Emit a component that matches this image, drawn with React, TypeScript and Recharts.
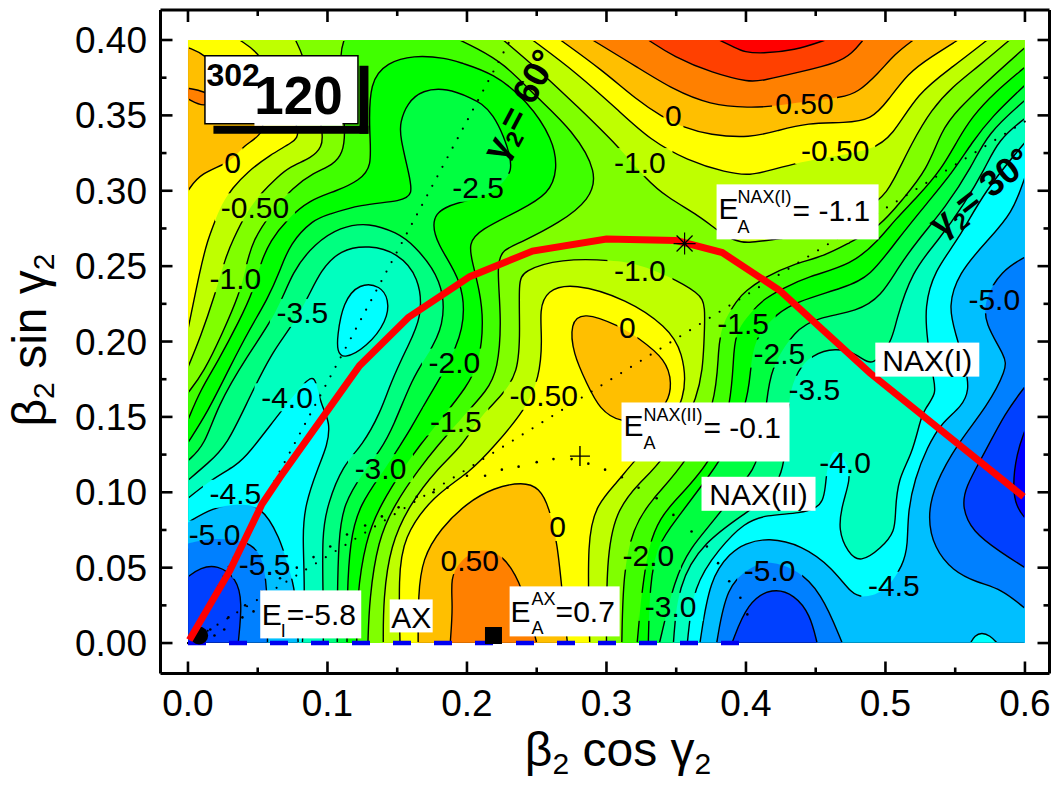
import React from "react";
import { ScatterChart, Scatter, XAxis, YAxis, Curve } from "recharts";

const frame = [0, 0, 600, 0, 600, 400, 0, 400];
// high ground, top right
const topM10 = [226,400,254,378,279,356,308,330,329,307,343,296,367,283,379,274,391,267,401,265,421,268,464,273,497,294,505,305,519,332,533,354,548,369,566,382,589,400];
const topM05 = [247,400,279,378,310,352,331,334,358,320,386,312,403,310,419,314,439,319,464,323,490,327,505,336,523,365,548,382,573,400];
const top00 = [267,400,297,380,322,360,340,349,355,342,374,337,403,335,423,340,444,345,471,345,490,347,502,360,516,378,533,389,552,400];
const top05 = [290,400,322,382,348,367,374,357,403,355,419,356,442,359,469,362,480,365,495,378,507,391,520,400];
const top10 = [330,400,348,389,376,378,403,372,411,373,440,379,466,385,476,391,484,400];
const top15 = [381,400,392,395,399,392,411,391,435,393,457,400];
// high ground, top left
const cornerM10 = [0,400,0,183,9,203,19,230,27,256,32,267,42,286,52,298,64,309,73,316,89,322,96,329,97,338,91,363,82,391,77,400];
const cornerM05 = [0,400,0,208,9,249,14,267,19,279,24,291,32,302,42,312,59,324,75,332,82,338,66,367,52,391,37,400];
const corner00 = [0,395,12,391,34,370,52,354,56,338,39,330,32,319,9,312,0,300];
const corner05 = [0,368,12,366,19,361,12,355,0,361];
// high ground, centre and bottom
const midM10 = [140,0,140,29,145,65,159,92,178,115,197,131,209,150,224,163,237,179,238,208,237,239,240,247,267,255,305,254,324,251,343,244,367,232,371,224,370,201,368,163,340,120,324,107,306,87,300,54,300,0];
const midM05 = [152,0,151,43,154,70,176,98,202,113,220,131,242,155,252,176,254,201,252,221,257,234,276,239,315,228,343,210,355,194,358,161,338,138,319,120,308,107,293,92,286,70,288,0];
const lobe00 = [274,212,283,220,310,210,322,203,343,188,347,172,344,159,331,148,310,146,295,155,286,172,276,192];
const hill00 = [165,0,165,32,168,56,181,76,200,93,219,103,240,107,252,103,259,90,265,65,268,36,272,0];
const hill05 = [188,0,190,25,188,43,195,55,209,63,225,60,240,38,250,0];
// low ground, left valley
const leftM15 = [0,0,0,166,11,179,25,206,37,232,41,247,46,267,61,287,75,302,90,312,104,317,111,325,113,338,110,367,109,392,112,400,195,400,206,395,226,385,250,362,276,340,294,312,288,294,267,279,237,265,226,261,221,252,225,214,222,181,215,168,195,148,179,131,166,116,148,92,136,68,130,29,129,0];
const leftM20 = [0,0,0,148,9,168,21,186,37,214,47,234,52,252,59,267,71,281,87,294,107,300,123,307,132,316,130,338,130,373,143,385,161,390,186,388,195,385,219,378,243,360,262,334,265,314,259,298,238,287,209,274,201,265,204,252,209,234,212,214,209,186,200,170,181,148,166,131,156,118,138,92,127,68,121,29,121,0];
const leftM25 = [0,0,0,133,14,153,30,183,44,208,57,228,66,247,73,265,90,281,100,284,123,291,154,293,161,298,159,309,152,336,152,345,157,358,168,367,186,368,202,362,219,354,234,318,229,308,216,297,202,294,173,287,178,264,197,241,199,208,183,179,171,161,159,141,152,131,141,115,123,92,116,68,114,29,114,0];
const leftM30 = [0,0,0,121,12,131,21,157,42,190,64,219,75,247,91,265,109,276,130,279,150,272,161,265,183,241,184,210,171,190,161,176,147,143,138,128,127,115,111,92,108,68,107,29,107,0];
const leftM35 = [0,0,0,108,14,119,28,131,44,163,61,194,73,208,86,229,95,247,109,261,130,264,150,259,166,243,168,216,157,196,145,172,138,153,125,131,111,118,100,92,96,72,97,29,97,0];
const leftM40 = [0,0,0,96,16,108,35,118,43,125,66,153,86,176,91,176,93,168,96,157,102,146,100,131,93,116,84,92,82,72,84,36,82,0];
const islandM40 = [107,203,111,226,123,239,138,237,144,228,143,214,128,196,111,188,107,194];
const leftM45 = [0,0,0,80,18,90,35,92,52,92,66,70,72,50,77,36,79,0];
const leftM50 = [0,0,0,66,19,70,41,68,53,60,57,36,57,0];
const leftM55 = [0,0,0,44,9,50,21,52,35,43,39,27,36,0];
// low ground, right valley
const rightM15 = [600,0,600,395,571,371,552,354,540,340,530,314,512,294,496,276,473,265,457,257,433,251,414,243,399,233,394,228,383,212,380,196,379,159,358,120,331,94,319,76,312,47,311,0];
const rightM20 = [600,0,600,382,578,365,562,349,552,334,540,314,523,296,507,281,495,267,476,251,444,243,426,235,414,229,403,219,394,208,391,196,390,159,376,120,348,94,329,72,322,0];
const rightM25 = [600,0,600,370,576,349,562,332,548,312,530,292,508,267,489,243,471,236,435,226,423,219,406,203,403,179,401,159,385,125,367,103,351,83,336,65,331,38,330,0];
const rightM30 = [600,0,600,360,573,338,562,316,543,289,523,267,509,249,497,230,480,220,452,216,435,208,417,181,415,159,409,120,401,110,376,80,360,63,349,43,338,0];
const rightM35 = [600,0,600,348,581,334,571,314,557,292,538,267,519,247,507,212,505,201,491,182,480,192,464,196,447,191,437,181,430,163,428,120,424,110,417,98,403,88,369,67,351,38,348,0];
const rightM40 = [600,0,600,332,571,300,552,267,535,247,528,223,530,201,534,176,537,166,528,155,525,148,519,125,509,109,507,87,507,74,497,63,482,53,473,60,466,75,469,92,475,109,473,118,466,128,462,127,458,116,457,103,455,94,451,90,440,86,414,85,399,80,381,63,362,38,358,0];
const rightM45 = [600,0,600,309,591,285,573,267,552,245,545,223,550,206,558,181,560,168,555,157,540,146,530,130,521,109,516,87,516,65,513,52,500,34,485,30,476,32,462,50,440,65,416,70,399,66,389,60,374,43,367,0,561,0,564,5,569,7,575,5,580,0];
const basinM50 = [379,0,386,38,403,50,414,55,435,50,454,34,469,0];
const basinM55 = [390,0,401,27,419,37,435,32,446,19,451,0];
const edgeM50 = [600,256,583,247,571,228,571,212,586,190,587,182,573,157,552,133,535,105,530,83,535,63,548,48,566,40,583,36,600,23];
const edgeM55 = [600,170,586,153,571,126,557,103,555,90,562,74,583,60,600,50];
const edgeM60 = [600,141,594,126,591,103,594,90,600,83];

// paint order, outer region before inner region, with the band colour of each contour's inside
const contourList: [number[], string][] = [
  [topM10,"#bfff00"],[topM05,"#ffff00"],[top00,"#ffbf00"],[top05,"#ff8000"],[top10,"#ff4000"],[top15,"#ff0000"],
  [cornerM10,"#bfff00"],[cornerM05,"#ffff00"],[corner00,"#ffbf00"],[corner05,"#ff8000"],
  [midM10,"#bfff00"],[midM05,"#ffff00"],[lobe00,"#ffbf00"],[hill00,"#ffbf00"],[hill05,"#ff8000"],
  [leftM15,"#40ff00"],[leftM20,"#00ff00"],[leftM25,"#00ff40"],[leftM30,"#00ff80"],[leftM35,"#00ffbf"],[leftM40,"#00ffff"],[islandM40,"#00ffff"],[leftM45,"#00bfff"],[leftM50,"#0080ff"],[leftM55,"#0040ff"],
  [rightM15,"#40ff00"],[rightM20,"#00ff00"],[rightM25,"#00ff40"],[rightM30,"#00ff80"],[rightM35,"#00ffbf"],[rightM40,"#00ffff"],[rightM45,"#00bfff"],
  [basinM50,"#0080ff"],[basinM55,"#0040ff"],[edgeM50,"#0080ff"],[edgeM55,"#0040ff"],[edgeM60,"#0000ff"],
];

const contourLabels: [string, number, number][] = [
  ["0.50",442,358],["-0.50",464,327],["0",348,350],["-1.0",324,319],["-2.5",208,302],["0",32,319],["-0.50",48,289],["-1.0",34,242],
  ["-3.5",82,219],["-4.0",71,163],["-2.0",191,186],["-1.5",192,147],["-1.0",324,247],["0",315,209],["-0.50",255,164],["-1.5",398,212],
  ["-2.5",424,192],["-3.5",449,168],["-5.0",578,228],["-4.0",471,120],["-4.5",506,38],["-5.0",417,48],["-3.0",346,24],["-2.0",330,58],
  ["0",265,77],["0.50",202,55],["-3.0",138,116],["-4.5",34,99],["-5.0",19,72],["-5.5",55,52],
];

const redPath = [1,2,30,48,53,92,66,110,123,184,158,216,202,243,247,260,300,268,350,267,383,259,424,234,489,179,599,97];
const axialLine = [0,0,395,0];
const gamma60 = [0,0,231,400];
const gamma30 = [0,0,600,346];
const saddleDots = [53,34,66,43,78,50,90,57,102,64,114,72,127,78,139,84,151,90,164,97,176,100,186,103,200,111,213,111,225,115,237,117,250,120,262,122,275,122,287,119,299,115,311,110,323,103,336,96,348,85,361,74,372,64,380,53,388,41,396,30,401,19,16,9,19,5,26,9,29,17,41,25,39,17,47,21];

const xTicks = [0,0.05,0.1,0.15,0.2,0.25,0.3,0.35,0.4,0.45,0.5,0.55,0.6];
const yTicks = [0,0.025,0.05,0.075,0.1,0.125,0.15,0.175,0.2,0.225,0.25,0.275,0.3,0.325,0.35,0.375,0.4];
const xDomain = [-0.0197, 0.6176];
const yDomain = [-0.0202, 0.4199];

const FONT = "'Liberation Sans', Arial, sans-serif";
const toPoints = (flat: number[]) => {
  const out: { x: number; y: number }[] = [];
  for (let i = 0; i < flat.length; i += 2) {
    const p = { x: flat[i] / 1000, y: flat[i + 1] / 1000 };
    out.push(p);
    if (flat[i] === 0 || flat[i] === 600 || flat[i + 1] === 0 || flat[i + 1] === 400) out.push(p, p);
  }
  return out;
};
const plain = (flat: number[]) => {
  const out: { x: number; y: number }[] = [];
  for (let i = 0; i < flat.length; i += 2) out.push({ x: flat[i] / 1000, y: flat[i + 1] / 1000 });
  return out;
};
const labelData = contourLabels.map(([text, x, y]) => ({ text, x: x / 1000, y: y / 1000 }));
const NoPoint = () => <g />;
const common = { isAnimationActive: false, legendType: "none" as const, tooltipType: "none" as const };

const XTick = (top: boolean) => (p: any) => {
  const v = p.payload.value;
  const major = Math.round(v * 100) % 10 === 0;
  const len = major ? 12 : 6;
  const y0 = top ? 10 : 673.5;
  return (
    <g>
      <line x1={p.x} x2={p.x} y1={y0} y2={top ? y0 + len : y0 - len} stroke="#000" strokeWidth={2.6} />
      {!top && major && (
        <text x={p.x} y={716} textAnchor="middle" fontFamily={FONT} fontSize={37} fill="#000">{v.toFixed(1)}</text>
      )}
    </g>
  );
};
const YTick = (right: boolean) => (p: any) => {
  const v = p.payload.value;
  const major = Math.round(v * 1000) % 50 === 0;
  const len = major ? 12 : 6;
  const x0 = right ? 1049.5 : 160.5;
  return (
    <g>
      <line x1={x0} x2={right ? x0 - len : x0 + len} y1={p.y} y2={p.y} stroke="#000" strokeWidth={2.6} />
      {!right && major && (
        <text x={147} y={p.y + 13} textAnchor="end" fontFamily={FONT} fontSize={37} fill="#000">{v.toFixed(2)}</text>
      )}
    </g>
  );
};

const ContourLabel = (p: any) => (
  <text x={p.cx} y={p.cy + 10.5} textAnchor="middle" fontFamily={FONT} fontSize={30} fill="#000">{p.payload.text}</text>
);

const T = (props: any) => <text fontFamily={FONT} fill="#000" {...props} />;
const WhiteBox = ({ cx, cy, w, h }: any) => <rect x={cx - w / 2} y={cy - h / 2} width={w} height={h} fill="#fff" />;

const nax1Box = (p: any) => (
  <g>
    <WhiteBox cx={p.cx} cy={p.cy} w={162} h={55} />
    <T x={p.cx - 79} y={p.cy + 7} fontSize={30}>E</T>
    <T x={p.cx - 60} y={p.cy - 9} fontSize={18}>NAX(I)</T>
    <T x={p.cx - 60} y={p.cy + 21} fontSize={18}>A</T>
    <T x={p.cx - 5} y={p.cy + 9} fontSize={30}>= -1.1</T>
  </g>
);
const nax2Box = (p: any) => (
  <g>
    <WhiteBox cx={p.cx} cy={p.cy} w={168} h={59} />
    <T x={p.cx - 82} y={p.cy + 4} fontSize={30}>E</T>
    <T x={p.cx - 62} y={p.cy - 11} fontSize={18}>NAX(II)</T>
    <T x={p.cx - 62} y={p.cy + 17} fontSize={18}>A</T>
    <T x={p.cx - 2} y={p.cy + 6} fontSize={30}>= -0.1</T>
  </g>
);
const eiBox = (p: any) => (
  <g>
    <WhiteBox cx={p.cx} cy={p.cy} w={101} h={48} />
    <T x={p.cx - 49} y={p.cy + 11} fontSize={30}>E</T>
    <T x={p.cx - 30} y={p.cy + 23} fontSize={18}>I</T>
    <T x={p.cx - 24} y={p.cy + 11} fontSize={30}>=-5.8</T>
  </g>
);
const axBox = (p: any) => (
  <g>
    <WhiteBox cx={p.cx} cy={p.cy} w={43} h={33} />
    <T x={p.cx} y={p.cy + 12} textAnchor="middle" fontSize={30}>AX</T>
  </g>
);
const eaBox = (p: any) => (
  <g>
    <WhiteBox cx={p.cx} cy={p.cy} w={110} h={50} />
    <T x={p.cx - 54} y={p.cy + 11} fontSize={30}>E</T>
    <T x={p.cx - 33} y={p.cy - 6} fontSize={18}>AX</T>
    <T x={p.cx - 33} y={p.cy + 23} fontSize={18}>A</T>
    <T x={p.cx - 9} y={p.cy + 11} fontSize={30}>=0.7</T>
  </g>
);
const nameBox = (text: string, w: number) => (p: any) => (
  <g>
    <WhiteBox cx={p.cx} cy={p.cy} w={w} h={34} />
    <T x={p.cx} y={p.cy + 11} textAnchor="middle" fontSize={30}>{text}</T>
  </g>
);
const nucleusBox = (p: any) => (
  <g>
    <rect x={p.cx + 78} y={p.cy - 24} width={9} height={68} fill="#000" />
    <rect x={p.cx - 68} y={p.cy + 36} width={155} height={8} fill="#000" />
    <rect x={p.cx - 76.5} y={p.cy - 34} width={153} height={68} fill="#fff" stroke="#000" strokeWidth={1.5} />
    <rect x={p.cx - 27} y={p.cy + 30} width={88} height={6} fill="#fff" />
    <T x={p.cx - 75} y={p.cy - 4} fontSize={32} fontWeight="bold">302</T>
    <T x={p.cx + 17} y={p.cy + 24} textAnchor="middle" fontSize={53} fontWeight="bold">120</T>
  </g>
);
const gammaText = (deg: string, angle: number) => (p: any) => (
  <g transform={`rotate(${angle} ${p.cx} ${p.cy})`}>
    <text x={p.cx} y={p.cy + 12} textAnchor="middle" fontFamily={FONT} fontSize={36} fontWeight="bold" fill="#000">
      γ<tspan fontSize={23} dy={7}>2</tspan><tspan dy={-7}>= {deg}°</tspan>
    </text>
  </g>
);

const GapMask = ({ points }: any) => {
  const [a, b, ...rest] = points;
  return (
    <mask id="gaps" maskUnits="userSpaceOnUse" x={0} y={0} width={1052} height={788}>
      <rect x={a.x + 1} y={b.y + 1} width={b.x - a.x - 2} height={a.y - b.y - 2} fill="#fff" />
      {rest.map((q: any, i: number) => {
        const w = labelData[i].text.length * 15 + 5;
        return <rect key={i} x={q.x - w / 2} y={q.y - 14} width={w} height={28} fill="#000" />;
      })}
    </mask>
  );
};

const maskData = [{ x: 0, y: 0 }, { x: 0.6, y: 0.4 }, ...labelData];
const pt = (x: number, y: number) => [{ x: x / 1000, y: y / 1000 }];
const dotShape = (p: any) => <circle cx={p.cx} cy={p.cy} r={1.3} fill="#000" />;

export default function App() {
  return (
    <div style={{ position: "absolute", left: 0, top: 0, width: 1052, height: 788, background: "#fff" }}>
      <ScatterChart width={1052} height={788} margin={{ top: 10, right: 2.5, bottom: 0, left: 0 }}>
        <XAxis type="number" dataKey="x" domain={xDomain} allowDataOverflow ticks={xTicks} interval={0} height={114.5} axisLine={{ stroke: "#000", strokeWidth: 3 }} tickLine={false} tickSize={0} tick={XTick(false)} />
        <XAxis xAxisId="t" type="number" dataKey="x" orientation="top" mirror domain={xDomain} allowDataOverflow ticks={xTicks} interval={0} axisLine={{ stroke: "#000", strokeWidth: 3 }} tickLine={false} tickSize={0} tick={XTick(true)} />
        <YAxis type="number" dataKey="y" domain={yDomain} allowDataOverflow ticks={yTicks} interval={0} width={160.5} axisLine={{ stroke: "#000", strokeWidth: 3 }} tickLine={false} tickSize={0} tick={YTick(false)} />
        <YAxis yAxisId="r" type="number" dataKey="y" orientation="right" mirror domain={yDomain} allowDataOverflow ticks={yTicks} interval={0} axisLine={{ stroke: "#000", strokeWidth: 3 }} tickLine={false} tickSize={0} tick={YTick(true)} />

        <Scatter {...common} data={maskData} shape={NoPoint} line={(p: any) => <GapMask points={p.points} />} />
        <Scatter {...common} data={plain(frame)} shape={NoPoint} line={(p: any) => <Curve type="linearClosed" points={p.points} fill="#80ff00" stroke="none" />} />
        {contourList.map(([flat, color], i) => (
          <Scatter key={"f" + i} {...common} data={toPoints(flat)} shape={NoPoint} line={(p: any) => <Curve type="basisClosed" points={p.points} fill={color} stroke="none" />} />
        ))}
        {contourList.map(([flat], i) => (
          <Scatter key={"s" + i} {...common} data={toPoints(flat)} shape={NoPoint} line={(p: any) => <g mask="url(#gaps)"><Curve type="basisClosed" points={p.points} fill="none" stroke="#000" strokeWidth={1.4} /></g>} />
        ))}

        <Scatter {...common} data={plain(gamma60)} shape={NoPoint} line={(p: any) => <Curve type="linear" points={p.points} fill="none" stroke="#000" strokeWidth={2.2} strokeLinecap="round" strokeDasharray="0 10.8" />} />
        <Scatter {...common} data={plain(gamma30)} shape={NoPoint} line={(p: any) => <Curve type="linear" points={p.points} fill="none" stroke="#000" strokeWidth={2.2} strokeLinecap="round" strokeDasharray="0 11.6" />} />
        <Scatter {...common} data={plain(saddleDots)} shape={dotShape} />
        <Scatter {...common} data={plain(axialLine)} shape={NoPoint} line={(p: any) => <Curve type="linear" points={p.points} fill="none" stroke="#0000f0" strokeWidth={4.5} strokeDasharray="18 23" />} />
        <Scatter {...common} data={pt(8, 5)} shape={(p: any) => <circle cx={p.cx} cy={p.cy} r={9} fill="#000" />} />
        <Scatter {...common} data={pt(219, 5)} shape={(p: any) => <rect x={p.cx - 8.5} y={p.cy - 8.5} width={17} height={17} fill="#000" />} />
        <Scatter {...common} data={plain(redPath)} shape={NoPoint} line={(p: any) => <Curve type="linear" points={p.points} fill="none" stroke="#ff0000" strokeWidth={7} />} />
        <Scatter {...common} data={pt(281, 124)} shape={(p: any) => <path d={`M${p.cx - 10} ${p.cy}H${p.cx + 10}M${p.cx} ${p.cy - 10}V${p.cy + 10}`} stroke="#000" strokeWidth={1.4} />} />
        <Scatter {...common} data={pt(356, 265)} shape={(p: any) => <path d={`M${p.cx - 11} ${p.cy}H${p.cx + 11}M${p.cx} ${p.cy - 11}V${p.cy + 11}M${p.cx - 8} ${p.cy - 8}L${p.cx + 8} ${p.cy + 8}M${p.cx - 8} ${p.cy + 8}L${p.cx + 8} ${p.cy - 8}`} stroke="#000" strokeWidth={1.2} />} />

        <Scatter {...common} data={labelData} shape={ContourLabel} />
        <Scatter {...common} data={pt(437, 286)} shape={nax1Box} />
        <Scatter {...common} data={pt(371, 140)} shape={nax2Box} />
        <Scatter {...common} data={pt(530, 188)} shape={nameBox("NAX(I)", 104)} />
        <Scatter {...common} data={pt(409, 99)} shape={nameBox("NAX(II)", 114)} />
        <Scatter {...common} data={pt(88, 19)} shape={eiBox} />
        <Scatter {...common} data={pt(160, 18)} shape={axBox} />
        <Scatter {...common} data={pt(270, 21)} shape={eaBox} />
        <Scatter {...common} data={pt(67, 367)} shape={nucleusBox} />
        <Scatter {...common} data={pt(238, 357)} shape={gammaText("60", -62)} />
        <Scatter {...common} data={pt(568, 299)} shape={gammaText("30", -38)} />

        <text x={618} y={766} textAnchor="middle" fontFamily={FONT} fontSize={48} fill="#000">
          β<tspan fontSize={30} dy={8}>2</tspan><tspan dy={-8}> cos γ</tspan><tspan fontSize={30} dy={8}>2</tspan>
        </text>
        <text transform="translate(46 340) rotate(-90)" textAnchor="middle" fontFamily={FONT} fontSize={48} fill="#000">
          β<tspan fontSize={30} dy={8}>2</tspan><tspan dy={-8}> sin γ</tspan><tspan fontSize={30} dy={8}>2</tspan>
        </text>
      </ScatterChart>
    </div>
  );
}
